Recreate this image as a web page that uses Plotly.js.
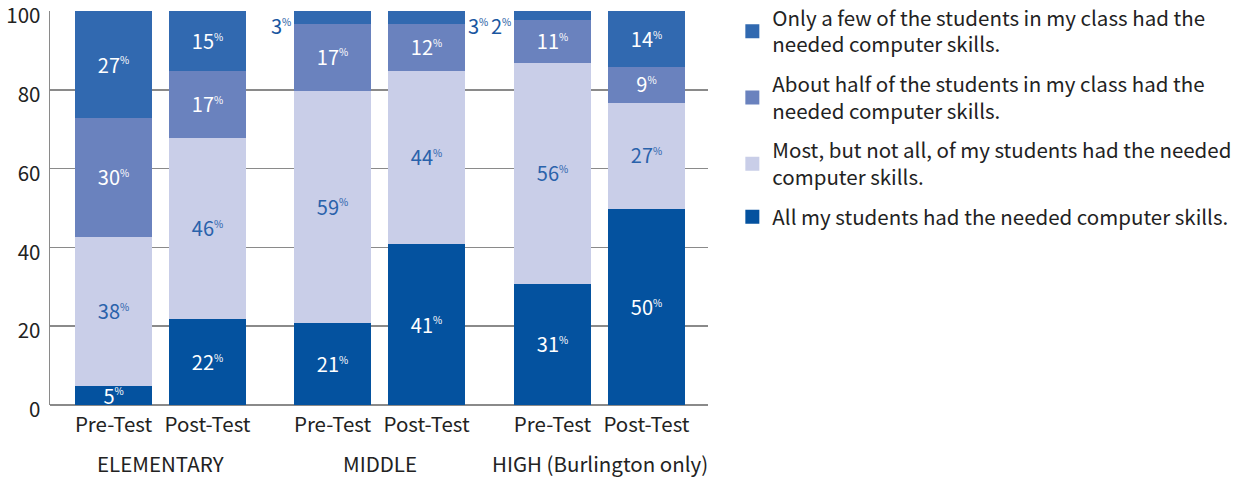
<!DOCTYPE html>
<html><head><meta charset="utf-8">
<script src="https://cdn.plot.ly/plotly-3.0.1.min.js"></script>
<style>html,body{margin:0;padding:0;background:#fff}#chart{width:1241px;height:478px}</style>
</head><body><div id="chart"></div>
<script>
const barLabels = ["Pre-Test","Post-Test","Pre-Test","Post-Test","Pre-Test","Post-Test"];
const groupLabels = ["ELEMENTARY","MIDDLE","HIGH (Burlington only)"];
const seriesNames = [
  "All my students had the needed computer skills.",
  "Most, but not all, of my students had the needed<br>computer skills.",
  "About half of the students in my class had the<br>needed computer skills.",
  "Only a few of the students in my class had the<br>needed computer skills."
];
const yTicks = [0, 20, 40, 60, 80, 100];
const allVals  = [5, 22, 21, 41, 31, 50];
const mostVals = [38, 46, 59, 44, 56, 27];
const halfVals = [30, 17, 17, 12, 11, 9];
const fewVals  = [27, 15, 3, 3, 2, 14];

// layout config (not data)
const xPos = [0, 1, 2.33, 3.33, 4.67, 5.67];
const barW = 0.80;
const colors = ["#04529f", "#c9cee8", "#6a82be", "#3169b0"];
const textColors = ["#ffffff", "#2a62ab", "#ffffff", "#ffffff"];
const ranks = [4, 3, 2, 1];
const smallSide = ["", "", "left", "right", "left", ""];
const FONT = '"Noto Sans CJK JP", "Source Sans Pro", sans-serif';
const pct = v => v + '<sup><span style="font-size:10px">%</span></sup>';

const series = [allVals, mostVals, halfVals, fewVals];
const traces = series.map((vals, i) => ({
  type: "bar",
  x: xPos,
  y: vals,
  width: barW,
  name: seriesNames[i],
  legendgroup: "g" + i,
  legendrank: ranks[i],
  marker: {color: colors[i], line: {width: 2, color: colors[i]}},
  text: vals.map(v => v < 5 ? "" : pct(v)),
  textposition: "inside",
  insidetextanchor: "middle",
  textangle: 0,
  constraintext: "none",
  insidetextfont: {family: FONT, size: 20, color: textColors[i]},
  hoverinfo: "skip"
}));

const annotations = [];
fewVals.forEach((v, j) => {
  if (v < 5) {
    const left = smallSide[j] === "left";
    annotations.push({
      x: xPos[j] + (left ? -barW / 2 : barW / 2),
      y: allVals[j] + mostVals[j] + halfVals[j] + v,
      xref: "x", yref: "y",
      xanchor: left ? "right" : "left", yanchor: "top",
      xshift: left ? -2 : 2, yshift: 2,
      text: pct(v), showarrow: false,
      font: {family: FONT, size: 20, color: "#1a56a0"}
    });
  }
});
groupLabels.forEach((g, k) => {
  annotations.push({
    x: (xPos[2 * k] + xPos[2 * k + 1]) / 2,
    y: -0.148, xref: "x", yref: "paper",
    xanchor: "center", yanchor: "middle",
    text: g, showarrow: false,
    font: {family: FONT, size: 20.5, color: "#222"}
  });
});

const layout = {
  width: 1241, height: 478,
  margin: {l: 50, r: 533, t: 11, b: 73, autoexpand: false},
  barmode: "stack",
  paper_bgcolor: "#fff", plot_bgcolor: "#fff",
  font: {family: FONT, size: 20.5, color: "#222"},
  showlegend: true,
  legend: {
    x: 1.037, y: 1.033, xanchor: "left", yanchor: "top",
    traceorder: "grouped", tracegroupgap: 10,
    font: {family: FONT, size: 20.5, color: "#222"},
    bgcolor: "rgba(0,0,0,0)"
  },
  xaxis: {
    range: [-0.676, 6.324],
    tickmode: "array", tickvals: xPos, ticktext: barLabels,
    showgrid: false, zeroline: false, showline: false,
    ticks: "", ticklabelstandoff: 5,
    tickfont: {family: FONT, size: 20.5, color: "#222"},
    fixedrange: true
  },
  yaxis: {
    range: [0, 100],
    tickmode: "array", tickvals: yTicks,
    ticklabeloverflow: "allow", ticklabelshift: 5,
    showgrid: true, gridcolor: "#8a8a8a", gridwidth: 1.5,
    zeroline: true, zerolinecolor: "#8a8a8a", zerolinewidth: 2,
    showline: true, linecolor: "#8a8a8a", linewidth: 1.5,
    ticks: "", ticklabelstandoff: 4,
    tickfont: {family: FONT, size: 20.5, color: "#222"},
    fixedrange: true
  },
  annotations: annotations
};

Plotly.newPlot("chart", traces, layout, {displayModeBar: false, staticPlot: true});
</script>
</body></html>
